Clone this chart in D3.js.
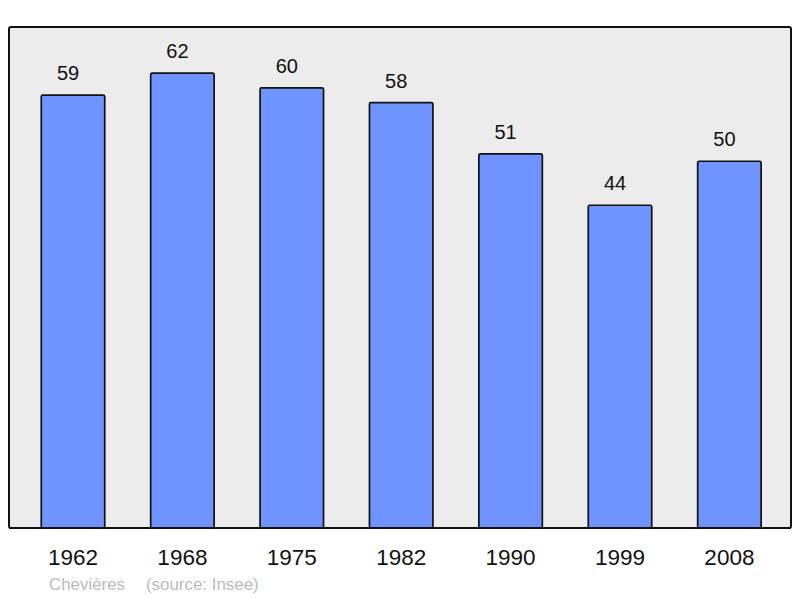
<!DOCTYPE html>
<html>
<head>
<meta charset="utf-8">
<script src="https://cdn.jsdelivr.net/npm/d3@7"></script>
<style>
  body { margin: 0; background: #fff; }
  text { font-family: "Liberation Sans", Arial, sans-serif; }
</style>
</head>
<body>
<div id="chart"></div>
<script>
// Population data (Insee)
const years = ['1962', '1968', '1975', '1982', '1990', '1999', '2008'];
const population = [59, 62, 60, 58, 51, 44, 50];
const townName = 'Chevières';
const sourceLabel = '(source: Insee)';

const width = 800;
const height = 598;
const frame = { left: 9, top: 27, right: 791, bottom: 528 };

const svg = d3.select('#chart')
  .append('svg')
  .attr('width', width)
  .attr('height', height);

// background panel
svg.append('rect')
  .attr('x', frame.left)
  .attr('y', frame.top)
  .attr('width', frame.right - frame.left)
  .attr('height', frame.bottom - frame.top)
  .attr('rx', 2)
  .attr('fill', '#ececec')
  .attr('stroke', '#111')
  .attr('stroke-width', 2);

const x = d3.scaleBand()
  .domain(years)
  .range([18.3, 784.1])
  .paddingInner(0.42)
  .paddingOuter(0.21);

const y = d3.scaleLinear()
  .domain([0, 68.3])
  .range([frame.bottom, frame.top]);

const data = years.map((yr, i) => ({ year: yr, value: population[i] }));

svg.selectAll('rect.bar')
  .data(data)
  .enter().append('rect')
  .attr('class', 'bar')
  .attr('x', d => x(d.year))
  .attr('width', x.bandwidth())
  .attr('y', d => y(d.value))
  .attr('height', d => y(0) - y(d.value))
  .attr('rx', 1.5)
  .attr('fill', '#7094ff')
  .attr('stroke', '#111')
  .attr('stroke-width', 1.7);

// value labels (sit a little left of the bar centre, as in the original)
svg.selectAll('text.value')
  .data(data)
  .enter().append('text')
  .attr('class', 'value')
  .attr('x', d => x(d.year) + x.bandwidth() / 2 - 5)
  .attr('y', d => y(d.value) - 15)
  .attr('text-anchor', 'middle')
  .attr('font-size', 20)
  .attr('fill', '#111')
  .text(d => d.value);

// redraw the frame bottom over the bars
svg.append('line')
  .attr('x1', frame.left)
  .attr('x2', frame.right)
  .attr('y1', frame.bottom)
  .attr('y2', frame.bottom)
  .attr('stroke', '#111')
  .attr('stroke-width', 2);

// year axis
const xAxis = svg.append('g')
  .attr('transform', `translate(0, ${frame.bottom})`)
  .call(d3.axisBottom(x).tickSize(0).tickPadding(0));
xAxis.select('.domain').remove();
xAxis.selectAll('text')
  .attr('y', 37)
  .attr('dy', null)
  .attr('font-size', 22.5)
  .attr('font-family', '"Liberation Sans", Arial, sans-serif')
  .attr('fill', '#111');

// caption
svg.append('text')
  .attr('x', 49)
  .attr('y', 590)
  .attr('font-size', 16.9)
  .attr('fill', '#bbbbbb')
  .text(townName);
svg.append('text')
  .attr('x', 146)
  .attr('y', 590)
  .attr('font-size', 16.9)
  .attr('fill', '#bbbbbb')
  .text(sourceLabel);
</script>
</body>
</html>
